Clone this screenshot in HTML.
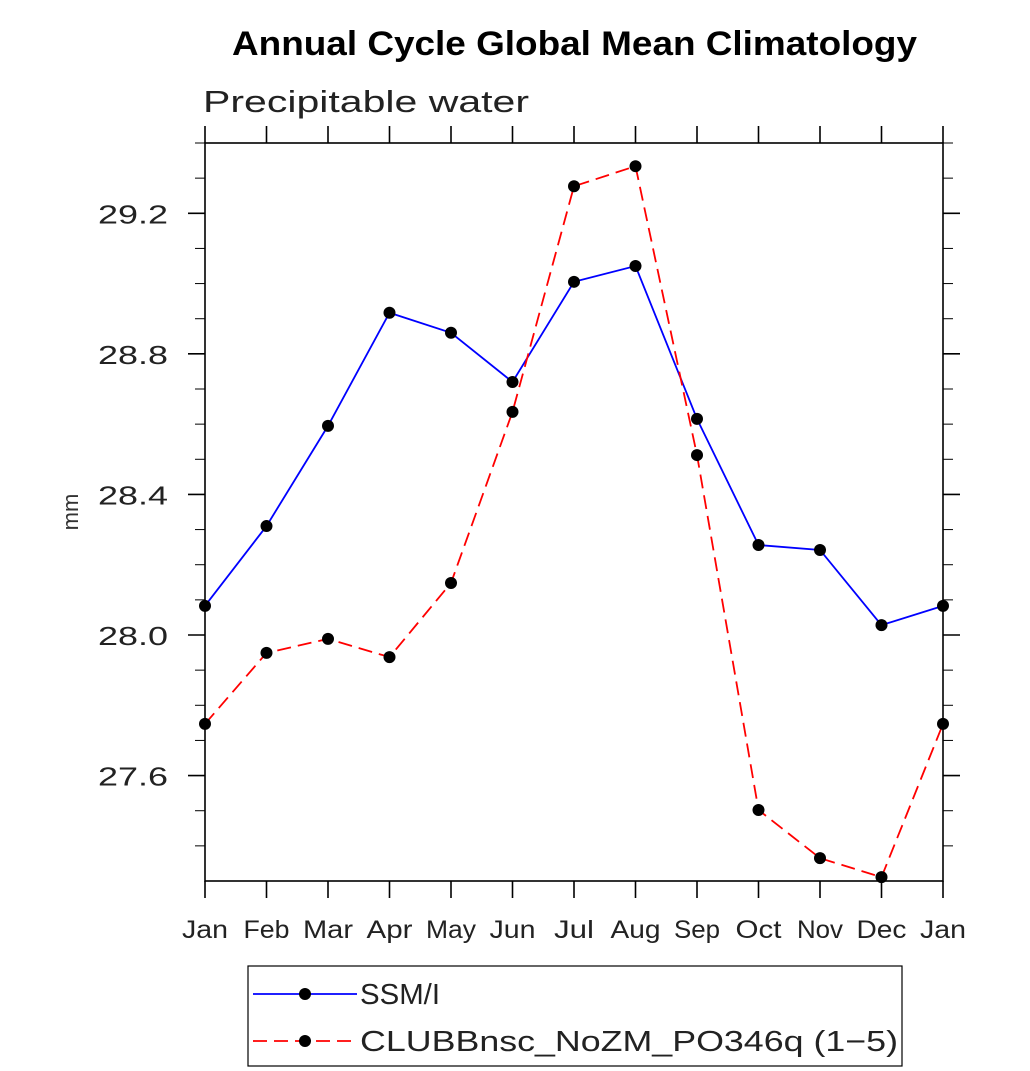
<!DOCTYPE html>
<html><head><meta charset="utf-8"><style>
body{margin:0;background:#fff}
svg{display:block;font-family:"Liberation Sans",sans-serif}
</style></head><body>
<svg id="chart" width="1030" height="1071">
<text x="232" y="55" font-size="34" font-weight="bold" textLength="685" lengthAdjust="spacingAndGlyphs">Annual Cycle Global Mean Climatology</text>
<text x="203" y="112" font-size="31" fill="#222" textLength="326" lengthAdjust="spacingAndGlyphs">Precipitable water</text>
<text transform="translate(78,512) rotate(-90)" text-anchor="middle" font-size="22" fill="#333">mm</text>
<g id="axes"></g>
<g id="series"></g>
<rect x="248" y="966" width="654" height="100" fill="none" stroke="#000" stroke-width="1.2"/>
<g>
<line x1="253" y1="994" x2="357" y2="994" stroke="#0000ff" stroke-width="1.8"/>
<circle cx="305" cy="994" r="6" fill="#000"/>
<text x="360" y="1004" font-size="29" fill="#222" textLength="80" lengthAdjust="spacingAndGlyphs">SSM/I</text></g>
<g>
<line x1="253" y1="1041" x2="357" y2="1041" stroke="#ff0000" stroke-width="1.8" stroke-dasharray="14,7"/>
<circle cx="305" cy="1041" r="6" fill="#000"/>
<text x="360" y="1051" font-size="29" fill="#222" textLength="538" lengthAdjust="spacingAndGlyphs">CLUBBnsc_NoZM_PO346q (1−5)</text></g>
</svg>
<script>
const months=["Jan","Feb","Mar","Apr","May","Jun","Jul","Aug","Sep","Oct","Nov","Dec","Jan"];
const ssmi=[28.083,28.31,28.595,28.917,28.86,28.72,29.005,29.05,28.615,28.256,28.242,28.028,28.083];
const clubb=[27.747,27.949,27.989,27.937,28.148,28.635,29.277,29.334,28.512,27.502,27.365,27.311,27.747];
const yTicks=["27.6","28.0","28.4","28.8","29.2"];
const X0=205,X1=943,Y0=881,Y1=143,YMIN=27.3,YMAX=29.4;
const NS="http://www.w3.org/2000/svg";
function sx(i){return X0+(X1-X0)*i/(months.length-1);}
function sy(v){return Y0-(v-YMIN)/(YMAX-YMIN)*(Y0-Y1);}
function mk(t,a,p){const e=document.createElementNS(NS,t);for(const k in a)e.setAttribute(k,a[k]);p.appendChild(e);return e;}
const ax=document.getElementById('axes');
const frame=mk('rect',{x:X0,y:Y1,width:X1-X0,height:Y0-Y1,fill:'none',stroke:'#000','stroke-width':1.6},ax);


months.forEach((m,i)=>{const x=sx(i);
mk('line',{x1:x,y1:Y0,x2:x,y2:Y0+17,stroke:'#000','stroke-width':1.6},ax);
mk('line',{x1:x,y1:Y1,x2:x,y2:Y1-17,stroke:'#000','stroke-width':1.6},ax);
const w=(m==="Mar"||m==="May"||m==="Aug"||m==="Dec")?50:(m==="Jul"?40:46);
const t=mk('text',{x:x-w/2,y:Y0+57,'font-size':25,fill:'#222',textLength:w,lengthAdjust:'spacingAndGlyphs'},ax);t.textContent=m;

});
for(let v=27.4;v<=29.41;v+=0.1){const y=sy(v);const maj=Math.abs(Math.round(v*10)%4)===0;const L=maj?17:10;
mk('line',{x1:X0-L,y1:y,x2:X0,y2:y,stroke:'#000','stroke-width':maj?1.6:1},ax);
mk('line',{x1:X1,y1:y,x2:X1+L,y2:y,stroke:'#000','stroke-width':maj?1.6:1},ax);}
yTicks.forEach(s=>{const t=mk('text',{x:98,y:sy(parseFloat(s))+10,'font-size':26,fill:'#222',textLength:70,lengthAdjust:'spacingAndGlyphs'},ax);t.textContent=s;

});
const sg=document.getElementById('series');
function series(vals,color,dash,name){
const g=mk('g',{},sg);


const p=vals.map((v,i)=>sx(i)+','+sy(v)).join(' ');
const a={points:p,fill:'none',stroke:color,'stroke-width':1.8};if(dash)a['stroke-dasharray']=dash;
mk('polyline',a,g);
vals.forEach((v,i)=>{const c=mk('circle',{cx:sx(i),cy:sy(v),r:6,fill:'#000'},g);

});}
series(ssmi,'#0000ff',null,'series-ssmi');
series(clubb,'#ff0000','14,7','series-clubb');
</script>
</body></html>
